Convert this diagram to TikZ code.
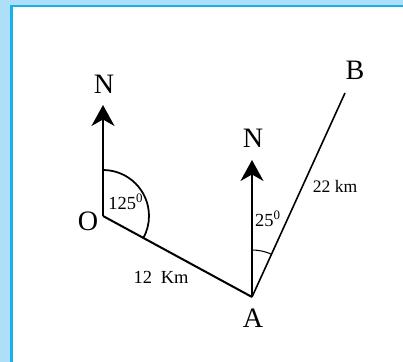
\documentclass[tikz,border=0pt]{standalone}
\usepackage{fontspec}
\setmainfont{Liberation Serif}
\usepackage{tikz}
\usetikzlibrary{arrows.meta,positioning,calc}
\definecolor{paleblue}{RGB}{173,223,249}
\definecolor{frameblue}{RGB}{24,175,234}

\begin{document}
\begin{tikzpicture}[x=0.02cm, y=0.02cm, every node/.style={inner sep=0pt},
  letter/.style={font=\fontsize{16}{16}\selectfont},
  small/.style={font=\fontsize{10.5}{10.5}\selectfont},
  north/.style={line width=1.15pt, -{Stealth[length=0.42cm, width=0.46cm, inset=0.13cm]}}]
\useasboundingbox (0,0) rectangle (403,362);
\clip (0,0) rectangle (403,362);
\fill[paleblue] (0,0) rectangle (403,362);
\draw[frameblue, line width=1.5pt, fill=white] (11.5,-10) rectangle (420,356);
% points
\coordinate (O) at (103,146);
\coordinate (A) at (252,65);
\coordinate (B) at (345,269);
\coordinate (nO) at (103,257);
\coordinate (nA) at (252,202);
% lines
\draw[line width=1.15pt, line join=miter] (O) -- (A);
\draw[line width=0.9pt] (A) -- (B);
\draw[north] (O) -- (nO);
\draw[north] (A) -- (nA);
% angles
\draw[line width=1pt] ($(O)+(90:0.92cm)$) arc[start angle=90, end angle=-28.5, radius=0.92cm];
\draw[line width=0.6pt] ($(A)+(90:0.94cm)$) arc[start angle=90, end angle=65.5, radius=0.94cm];
% labels
\node[letter] (lO) at (88,141) {O};
\node[letter] (lA) at (253,44) {A};
\node[letter] (lB) at (355,292) {B};
\node[letter] (lnO) at (104,278) {N};
\node[letter] (lnA) at (253,224) {N};
\node[small] (aO) at (126,160) {125\textsuperscript{0}};
\node[small] (aA) at (268,143) {25\textsuperscript{0}};
\node[small] (dOA) at (161,85) {12\hspace{5pt}Km};
\node[font=\fontsize{10}{10}\selectfont] (dAB) at (335,176) {22 km};
\end{tikzpicture}
\end{document}
